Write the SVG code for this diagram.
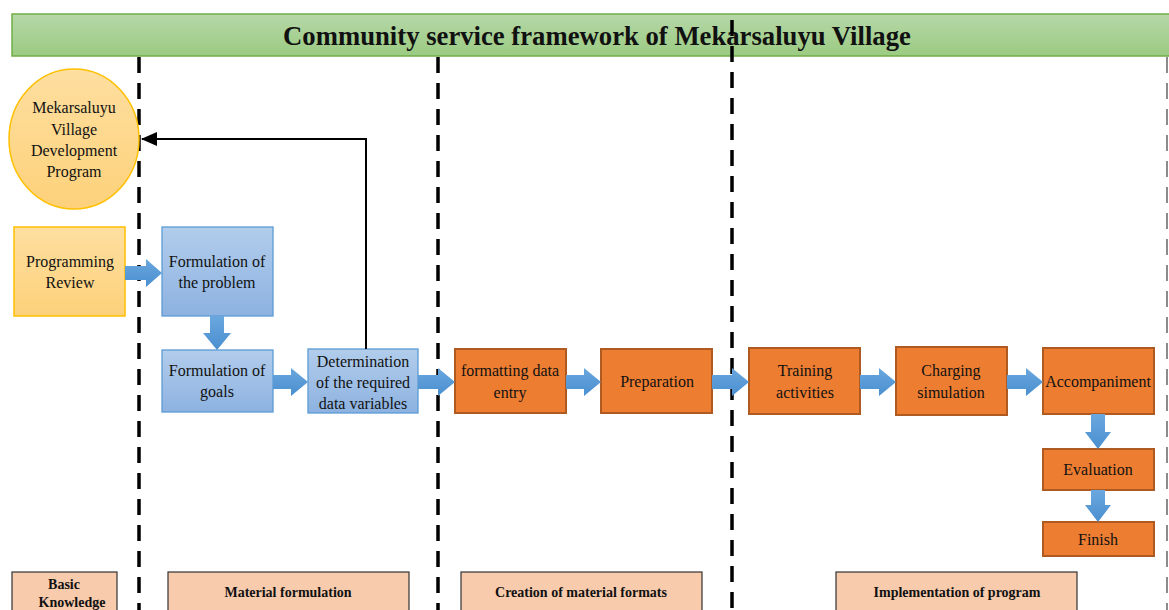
<svg xmlns="http://www.w3.org/2000/svg" width="1169" height="610" viewBox="0 0 1169 610">
<defs>
<linearGradient id="gTitle" x1="0" y1="0" x2="0" y2="1"><stop offset="0" stop-color="#b6d7a8"/><stop offset="1" stop-color="#9bcb82"/></linearGradient>
<linearGradient id="gBlue" x1="0" y1="0" x2="0" y2="1"><stop offset="0" stop-color="#b2cdec"/><stop offset="1" stop-color="#8db2e0"/></linearGradient>
<linearGradient id="gYel" x1="0" y1="0" x2="0" y2="1"><stop offset="0" stop-color="#fedfa0"/><stop offset="1" stop-color="#fdd17a"/></linearGradient>
<linearGradient id="gArr" x1="0" y1="0" x2="0" y2="1"><stop offset="0" stop-color="#6aa7de"/><stop offset="1" stop-color="#4a8fd0"/></linearGradient>
<marker id="ah" viewBox="0 0 16 14" refX="15" refY="7" markerWidth="16" markerHeight="14" markerUnits="userSpaceOnUse" orient="auto"><path d="M0,0 L16,7 L0,14 Z" fill="#000"/></marker>
</defs>
<style>
.t{font-family:"Liberation Serif","Times New Roman",serif;font-size:16px;fill:#111;text-anchor:middle}
.lbl{font-family:"Liberation Serif","Times New Roman",serif;font-size:14px;font-weight:bold;fill:#111;text-anchor:middle}
.blue{fill:url(#gBlue);stroke:#5b9bd5;stroke-width:1.3}
.org{fill:#ed7d31;stroke:#ae5a21;stroke-width:2}
.yel{fill:url(#gYel);stroke:#ffc000;stroke-width:1.5}
.bot{fill:#f8cbad;stroke:#333;stroke-width:1.2}
.dash{stroke:#000;stroke-width:3.5;stroke-dasharray:16 10;fill:none}
.barr{fill:url(#gArr)}
</style>
<rect width="1169" height="610" fill="#fff"/>
<g id="title">
<rect x="12" y="14" width="1170" height="42" fill="url(#gTitle)" stroke="#70ad47" stroke-width="1.5"/>
<text x="597" y="45" style="font-family:'Liberation Serif','Times New Roman',serif;font-size:26.7px;font-weight:bold;fill:#111;text-anchor:middle">Community service framework of Mekarsaluyu Village</text>
</g>
<g id="dividers">
<line class="dash" x1="139" y1="57" x2="139" y2="610"/>
<line class="dash" x1="438" y1="57" x2="438" y2="610"/>
<line class="dash" x1="732" y1="20" x2="732" y2="610"/>
<line x1="1167" y1="57" x2="1167" y2="610" stroke="#666" stroke-width="1.5" stroke-dasharray="16 10"/>
</g>
<g id="program">
<ellipse class="yel" cx="74" cy="139" rx="65" ry="70"/>
<text class="t" x="74" y="113">Mekarsaluyu</text>
<text class="t" x="74" y="135">Village</text>
<text class="t" x="74" y="156">Development</text>
<text class="t" x="74" y="177">Program</text>
</g>
<g id="review">
<rect class="yel" x="14" y="227" width="111" height="89"/>
<text class="t" x="70" y="267">Programming</text>
<text class="t" x="70" y="288">Review</text>
</g>
<g id="problem">
<rect class="blue" x="162" y="227" width="111" height="89"/>
<text class="t" x="217" y="267">Formulation of</text>
<text class="t" x="217" y="288">the problem</text>
</g>
<g id="goals">
<rect class="blue" x="162" y="350" width="111" height="62"/>
<text class="t" x="217" y="376">Formulation of</text>
<text class="t" x="217" y="397">goals</text>
</g>
<g id="variables">
<rect class="blue" x="308" y="349" width="110" height="64"/>
<text class="t" x="363" y="367">Determination</text>
<text class="t" x="363" y="388">of the required</text>
<text class="t" x="363" y="409">data variables</text>
</g>
<g id="formatting">
<rect class="org" x="455" y="349" width="111" height="64"/>
<text class="t" x="510" y="376">formatting data</text>
<text class="t" x="510" y="398">entry</text>
</g>
<g id="preparation">
<rect class="org" x="601" y="349" width="111" height="64"/>
<text class="t" x="657" y="387">Preparation</text>
</g>
<g id="training">
<rect class="org" x="749" y="348" width="111" height="66"/>
<text class="t" x="805" y="376">Training</text>
<text class="t" x="805" y="398">activities</text>
</g>
<g id="charging">
<rect class="org" x="896" y="347" width="111" height="68"/>
<text class="t" x="951" y="376">Charging</text>
<text class="t" x="951" y="398">simulation</text>
</g>
<g id="accompaniment">
<rect class="org" x="1043" y="348" width="111" height="66"/>
<text class="t" x="1098" y="387">Accompaniment</text>
</g>
<g id="evaluation">
<rect class="org" x="1043" y="449" width="111" height="41"/>
<text class="t" x="1098" y="475">Evaluation</text>
</g>
<g id="finish">
<rect class="org" x="1043" y="522" width="111" height="34"/>
<text class="t" x="1098" y="545">Finish</text>
</g>
<g id="labels">
<rect class="bot" x="12" y="572" width="105" height="45"/>
<text class="lbl" x="64" y="589">Basic</text>
<text class="lbl" x="72" y="607">Knowledge</text>
<rect class="bot" x="168" y="572" width="241" height="45"/>
<text class="lbl" x="288" y="597">Material formulation</text>
<rect class="bot" x="461" y="572" width="241" height="45"/>
<text class="lbl" x="581" y="597">Creation of material formats</text>
<rect class="bot" x="836" y="572" width="241" height="45"/>
<text class="lbl" x="957" y="597">Implementation of program</text>
</g>
<g id="connectors">
<path class="barr" d="M125,266 H146 V259 L162,273 L146,287 V280 H125 Z"/>
<path class="barr" d="M210,316 V333 H203 L217,350 L231,333 H224 V316 Z"/>
<path class="barr" d="M273,375 H291 V368 L308,382 L291,396 V389 H273 Z"/>
<path class="barr" d="M418,375 H438 V368 L455,382 L438,396 V389 H418 Z"/>
<path class="barr" d="M566,375 H584 V368 L601,382 L584,396 V389 H566 Z"/>
<path class="barr" d="M712,375 H732 V368 L749,382 L732,396 V389 H712 Z"/>
<path class="barr" d="M860,375 H879 V368 L896,382 L879,396 V389 H860 Z"/>
<path class="barr" d="M1007,375 H1026 V368 L1043,382 L1026,396 V389 H1007 Z"/>
<path class="barr" d="M1091,414 V432 H1085 L1098,449 L1111,432 H1105 V414 Z"/>
<path class="barr" d="M1091,490 V505 H1085 L1098,522 L1111,505 H1105 V490 Z"/>
<path d="M366,349 V139 H142" fill="none" stroke="#000" stroke-width="2" marker-end="url(#ah)"/>
</g>
</svg>
